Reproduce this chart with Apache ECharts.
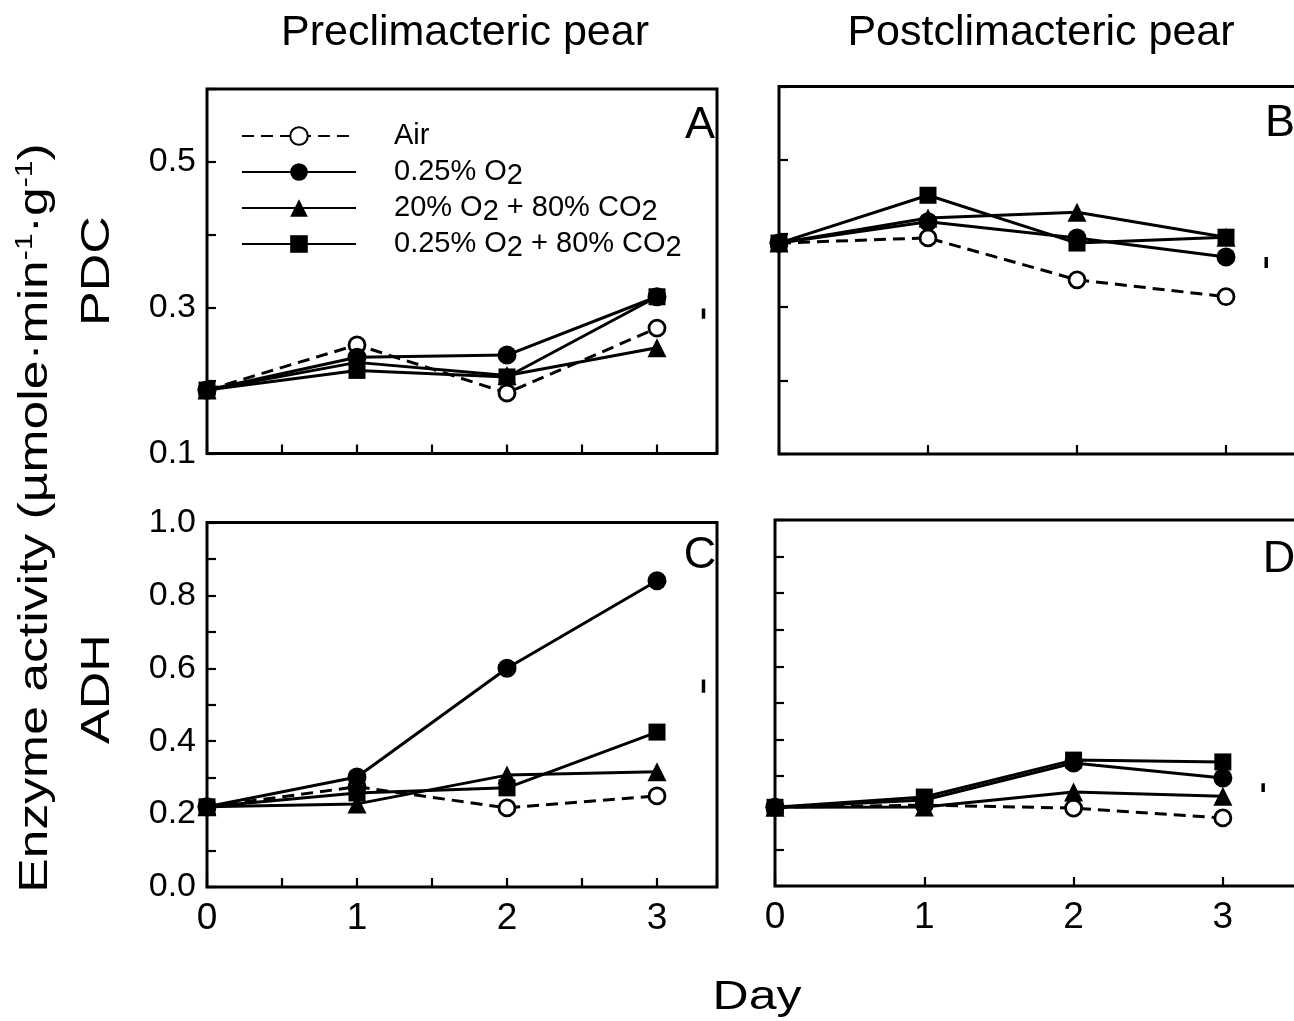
<!DOCTYPE html>
<html><head><meta charset="utf-8">
<script src="https://cdn.jsdelivr.net/npm/echarts@6/dist/echarts.min.js"></script>
<style>html,body{margin:0;padding:0;background:#fff}#c{width:1294px;height:1021px}</style>
</head><body><div id="c"></div>
<script>
const days = [0, 1, 2, 3];
const seriesNames = ['Air', '0.25% O2', '20% O2 + 80% CO2', '0.25% O2 + 80% CO2'];
// Panel A: PDC, preclimacteric
const pdcPreAir = [0.187, 0.249, 0.183, 0.272];
const pdcPreLowO2 = [0.187, 0.232, 0.235, 0.315];
const pdcPreHighCO2 = [0.187, 0.225, 0.207, 0.245];
const pdcPreLowO2HighCO2 = [0.187, 0.214, 0.205, 0.315];
// Panel B: PDC, postclimacteric
const pdcPostAir = [0.387, 0.394, 0.337, 0.314];
const pdcPostLowO2 = [0.387, 0.416, 0.394, 0.368];
const pdcPostHighCO2 = [0.387, 0.421, 0.429, 0.395];
const pdcPostLowO2HighCO2 = [0.387, 0.452, 0.387, 0.395];
// Panel C: ADH, preclimacteric
const adhPreAir = [0.22, 0.275, 0.217, 0.25];
const adhPreLowO2 = [0.22, 0.302, 0.6, 0.84];
const adhPreHighCO2 = [0.22, 0.228, 0.307, 0.316];
const adhPreLowO2HighCO2 = [0.22, 0.258, 0.272, 0.425];
// Panel D: ADH, postclimacteric
const adhPostAir = [0.215, 0.221, 0.213, 0.186];
const adhPostLowO2 = [0.215, 0.235, 0.336, 0.295];
const adhPostHighCO2 = [0.215, 0.216, 0.257, 0.245];
const adhPostLowO2HighCO2 = [0.215, 0.243, 0.344, 0.339];
// LSD bars (one per panel A, B, C, D)
const lsdX = [3.31, 3.27, 3.31, 3.27];
const lsdLow = [0.285, 0.353, 0.533, 0.257];
const lsdHigh = [0.299, 0.368, 0.569, 0.281];
// Axis tick labels
const pdcLabels = ['0.1', '0.3', '0.5'];
const adhLabels = ['0.0', '0.2', '0.4', '0.6', '0.8', '1.0'];
const dayLabels = ['0', '1', '2', '3'];

const FONT = "'Liberation Sans', Arial, Helvetica, sans-serif";
const panels = [
  [pdcPreAir, pdcPreLowO2, pdcPreHighCO2, pdcPreLowO2HighCO2],
  [pdcPostAir, pdcPostLowO2, pdcPostHighCO2, pdcPostLowO2HighCO2],
  [adhPreAir, adhPreLowO2, adhPreHighCO2, adhPreLowO2HighCO2],
  [adhPostAir, adhPostLowO2, adhPostHighCO2, adhPostLowO2HighCO2]
];
const styles = [
  {symbol: 'circle', symbolSize: 16, itemStyle: {color: '#fff', borderColor: '#000', borderWidth: 2.8}, lineStyle: {color: '#000', width: 3, type: [12, 7]}},
  {symbol: 'circle', symbolSize: 19, itemStyle: {color: '#000'}, lineStyle: {color: '#000', width: 3}},
  {symbol: 'triangle', symbolSize: 19, itemStyle: {color: '#000'}, lineStyle: {color: '#000', width: 3}},
  {symbol: 'rect', symbolSize: 17, itemStyle: {color: '#000'}, lineStyle: {color: '#000', width: 3}}
];

const grids = [
  {left: 207, top: 89, width: 510, height: 364.5},
  {left: 779, top: 86.5, width: 521.5, height: 367.5},
  {left: 207, top: 522.5, width: 510, height: 364.5},
  {left: 775, top: 520, width: 522.5, height: 366}
].map(g => Object.assign(g, {show: true, borderColor: '#000', borderWidth: 3, containLabel: false, outerBoundsMode: 'none'}));

const isInt = v => Math.abs(v - Math.round(v)) < 1e-6;
function xAxis(i, pre, showLabels) {
  return {
    gridIndex: i, type: 'value', min: 0, max: pre ? 3.4 : 3.5, interval: pre ? 0.5 : 1,
    axisLine: {show: false}, splitLine: {show: false},
    axisTick: {inside: true, length: 9, lineStyle: {color: '#000', width: 2.2}},
    axisLabel: {show: showLabels, margin: 13, fontSize: 37, fontFamily: FONT, color: '#000',
      formatter: v => { const s = String(Math.round(v)); return isInt(v) && dayLabels.includes(s) ? s : ''; }}
  };
}
function yAxis(i, pdc, showLabels) {
  const labels = pdc ? pdcLabels : adhLabels;
  return {
    gridIndex: i, type: 'value', min: pdc ? 0.1 : 0, max: pdc ? 0.6 : 1.0, interval: 0.1,
    axisLine: {show: false}, splitLine: {show: false},
    axisTick: {inside: true, length: 9, lineStyle: {color: '#000', width: 2.2}},
    axisLabel: {show: showLabels, margin: 11, fontSize: 34, fontFamily: FONT, color: '#000',
      formatter: v => { const s = v.toFixed(1); return labels.includes(s) ? s : ''; }}
  };
}

const series = [];
panels.forEach((arrs, p) => {
  arrs.forEach((vals, k) => {
    series.push(Object.assign({
      type: 'line', name: seriesNames[k], xAxisIndex: p, yAxisIndex: p,
      data: days.map((d, j) => [d, vals[j]]), clip: false, z: 3 + k,
      emphasis: {disabled: true}, animation: false
    }, JSON.parse(JSON.stringify(styles[k]))));
  });
  series.push({
    type: 'line', name: 'LSD', xAxisIndex: p, yAxisIndex: p, symbol: 'none',
    data: [[lsdX[p], lsdLow[p]], [lsdX[p], lsdHigh[p]]],
    lineStyle: {color: '#000', width: 3.5}, emphasis: {disabled: true}, animation: false
  });
});

function txt(text, x, y, size, opts) {
  return Object.assign({
    type: 'text', x: x, y: y, silent: true,
    style: {text: text, fontSize: size, fontFamily: FONT, fill: '#000', align: 'center', verticalAlign: 'middle'}
  }, opts || {});
}

const option = {
  backgroundColor: '#fff',
  animation: false,
  grid: grids,
  xAxis: [xAxis(0, true, false), xAxis(1, false, false), xAxis(2, true, true), xAxis(3, false, true)],
  yAxis: [yAxis(0, true, true), yAxis(1, true, false), yAxis(2, false, true), yAxis(3, false, false)],
  legend: {
    data: seriesNames, orient: 'vertical', left: 241, top: 118, padding: 0,
    itemWidth: 114, itemHeight: 22, itemGap: 0, selectedMode: false,
    formatter: n => n.replace(/O2/g, 'O{sub|2}'),
    textStyle: {fontSize: 29, fontFamily: FONT, color: '#000', lineHeight: 36, padding: [0, 0, 0, 33],
      rich: {sub: {fontSize: 29, fontFamily: FONT, color: '#000', lineHeight: 24, verticalAlign: 'bottom'}}}
  },
  graphic: [
    txt('Preclimacteric pear', 465, 33, 43),
    txt('Postclimacteric pear', 1041, 33, 43),
    txt('A', 700, 126, 45),
    txt('B', 1280, 124, 45),
    txt('C', 700, 556, 45),
    txt('D', 1279, 560, 45),
    txt('Day', 757, 998, 41, {scaleX: 1.22}),
    txt('PDC', 98, 271, 40, {rotation: Math.PI / 2, scaleX: 1.3}),
    txt('ADH', 98, 689, 40, {rotation: Math.PI / 2, scaleX: 1.3}),
    {
      type: 'text', x: 36, y: 518, rotation: Math.PI / 2, scaleX: 1.26, silent: true,
      style: {text: 'Enzyme activity (µmole·min{sup|-1}·g{sup|-1})', fontSize: 41, fontFamily: FONT, fill: '#000',
        align: 'center', verticalAlign: 'middle', lineHeight: 46,
        rich: {sup: {fontSize: 24, fontFamily: FONT, fill: '#000', lineHeight: 24, verticalAlign: 'top'}}}
    }
  ],
  series: series
};
const chart = echarts.init(document.getElementById('c'));
chart.setOption(option);
</script></body></html>
